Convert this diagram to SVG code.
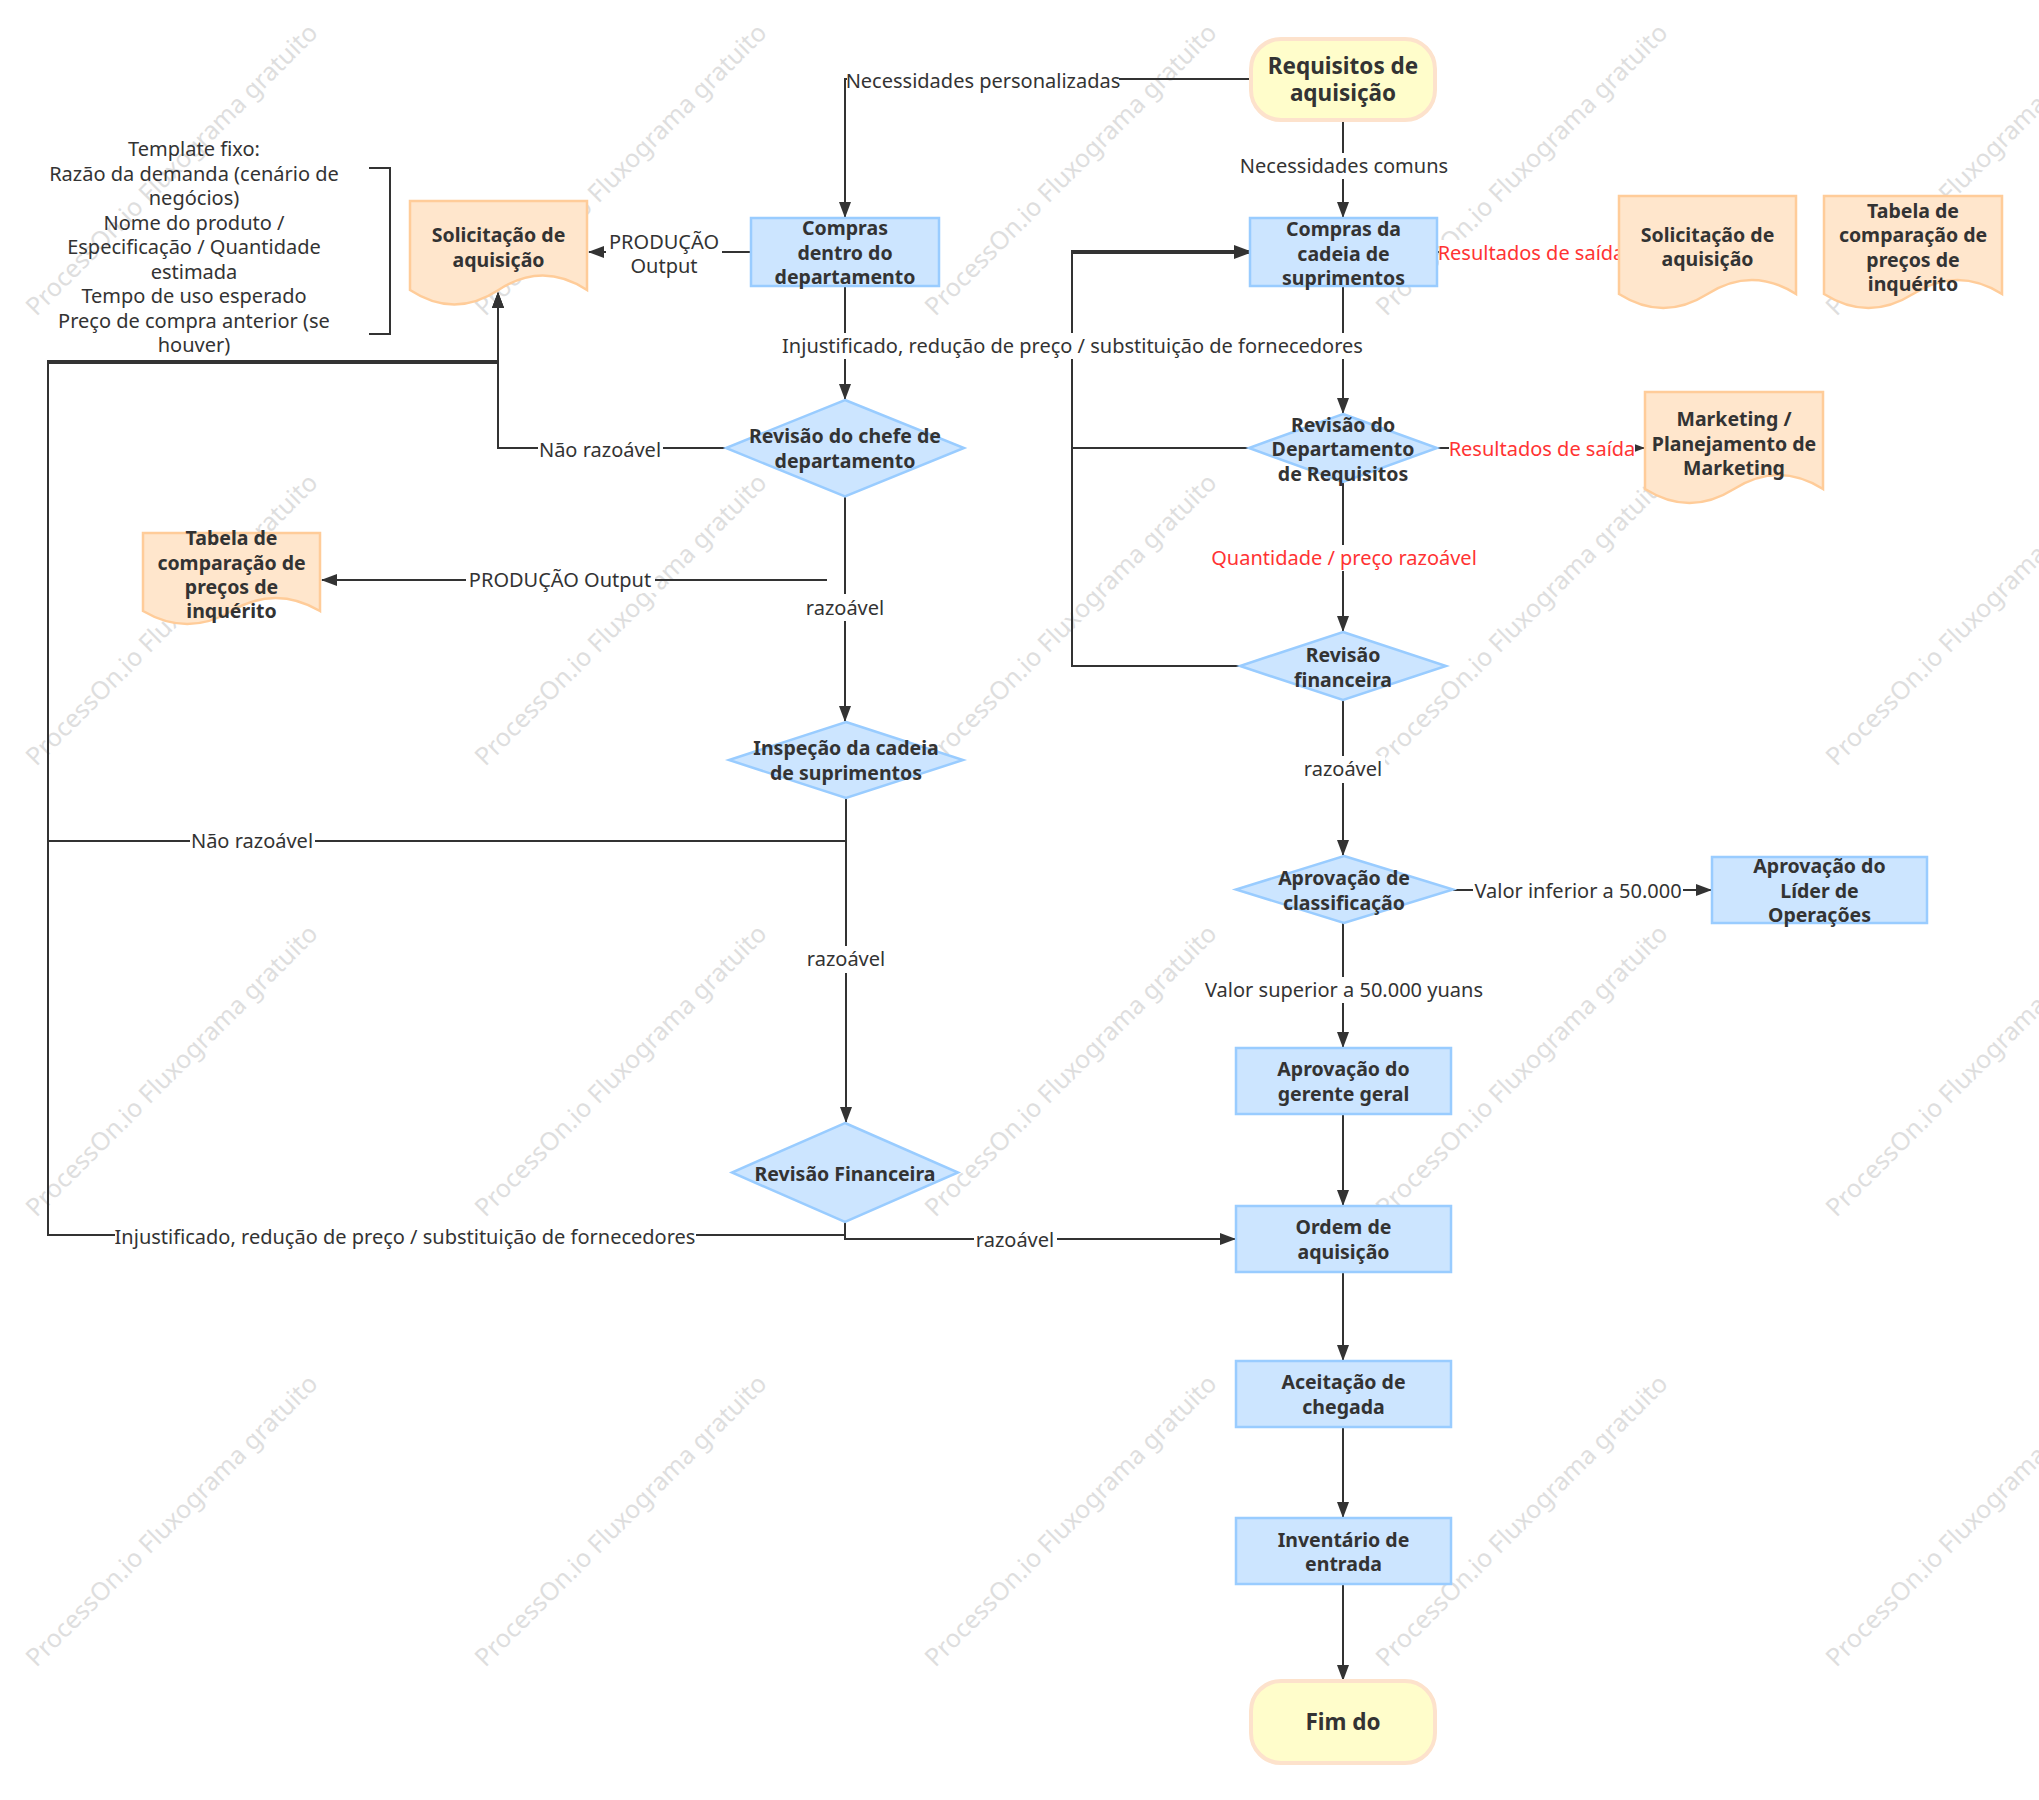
<svg xmlns="http://www.w3.org/2000/svg" width="2039" height="1800" viewBox="0 0 2039 1800">
<style>
text{font-family:"Noto Sans","Open Sans","Liberation Sans",sans-serif;}
.n{font-size:19.5px;font-weight:bold;fill:#333;text-anchor:middle;}
.t{font-size:22.5px;font-weight:bold;fill:#333;text-anchor:middle;}
.l{font-size:20px;fill:#333;text-anchor:middle;}
.r{font-size:20px;fill:#ff3333;text-anchor:middle;}
.bg{fill:#fff;}
.box{fill:#cce5ff;stroke:#99ccff;stroke-width:2.5;}
.doc{fill:#ffe6cc;stroke:#ffcc99;stroke-width:2.5;}
.term{fill:#fffdcb;stroke:#fde2cc;stroke-width:4;}
.c{fill:none;stroke:#333;stroke-width:2;}
.a{marker-end:url(#arr);}
.wm{font-size:25px;fill:#dedede;text-anchor:middle;}
</style>
<defs>
<marker id="arr" markerWidth="16" markerHeight="12" refX="15" refY="6" orient="auto" markerUnits="userSpaceOnUse"><path d="M0,0 L16,6 L0,12 z" fill="#333"/></marker>
</defs>
<rect width="2039" height="1800" fill="#fff"/>

<g id="watermarks">
<text class="wm" transform="translate(172,170) rotate(-45)" y="8">ProcessOn.io Fluxograma gratuito</text>
<text class="wm" transform="translate(621,170) rotate(-45)" y="8">ProcessOn.io Fluxograma gratuito</text>
<text class="wm" transform="translate(1071,170) rotate(-45)" y="8">ProcessOn.io Fluxograma gratuito</text>
<text class="wm" transform="translate(1522,170) rotate(-45)" y="8">ProcessOn.io Fluxograma gratuito</text>
<text class="wm" transform="translate(1972,170) rotate(-45)" y="8">ProcessOn.io Fluxograma gratuito</text>
<text class="wm" transform="translate(172,620) rotate(-45)" y="8">ProcessOn.io Fluxograma gratuito</text>
<text class="wm" transform="translate(621,620) rotate(-45)" y="8">ProcessOn.io Fluxograma gratuito</text>
<text class="wm" transform="translate(1071,620) rotate(-45)" y="8">ProcessOn.io Fluxograma gratuito</text>
<text class="wm" transform="translate(1522,620) rotate(-45)" y="8">ProcessOn.io Fluxograma gratuito</text>
<text class="wm" transform="translate(1972,620) rotate(-45)" y="8">ProcessOn.io Fluxograma gratuito</text>
<text class="wm" transform="translate(172,1071) rotate(-45)" y="8">ProcessOn.io Fluxograma gratuito</text>
<text class="wm" transform="translate(621,1071) rotate(-45)" y="8">ProcessOn.io Fluxograma gratuito</text>
<text class="wm" transform="translate(1071,1071) rotate(-45)" y="8">ProcessOn.io Fluxograma gratuito</text>
<text class="wm" transform="translate(1522,1071) rotate(-45)" y="8">ProcessOn.io Fluxograma gratuito</text>
<text class="wm" transform="translate(1972,1071) rotate(-45)" y="8">ProcessOn.io Fluxograma gratuito</text>
<text class="wm" transform="translate(172,1521) rotate(-45)" y="8">ProcessOn.io Fluxograma gratuito</text>
<text class="wm" transform="translate(621,1521) rotate(-45)" y="8">ProcessOn.io Fluxograma gratuito</text>
<text class="wm" transform="translate(1071,1521) rotate(-45)" y="8">ProcessOn.io Fluxograma gratuito</text>
<text class="wm" transform="translate(1522,1521) rotate(-45)" y="8">ProcessOn.io Fluxograma gratuito</text>
<text class="wm" transform="translate(1972,1521) rotate(-45)" y="8">ProcessOn.io Fluxograma gratuito</text>
</g>

<g id="connectors">
<path class="c a" d="M1250,79 H845 V217"/>
<path class="c a" d="M1343,121 V217"/>
<path class="c a" d="M750,252 H589"/>
<path class="c a" d="M845,287 V399"/>
<path class="c a" d="M726,448 H498 V293"/>
<path class="c a" d="M827,580 H322"/>
<path class="c a" d="M845,497 V721"/>
<path class="c a" d="M846,798 V841 H48 V361 H498 V293"/>
<path class="c a" d="M846,798 V1122"/>
<path class="c a" d="M845,1222 V1235 H48 V363 H498 V293"/>
<path class="c a" d="M845,1222 V1239 H1235"/>
<path class="c a" d="M1343,287 V413"/>
<path class="c" d="M1438,252 H1618"/>
<path class="c a" d="M1437,448 H1644"/>
<path class="c a" d="M1249,448 H1072 V251 H1249"/>
<path class="c a" d="M1240,666 H1072 V253 H1249"/>
<path class="c a" d="M1343,482 V631"/>
<path class="c a" d="M1343,700 V855"/>
<path class="c a" d="M1453,890 H1711"/>
<path class="c a" d="M1343,923 V1047"/>
<path class="c a" d="M1343,1115 V1205"/>
<path class="c a" d="M1343,1273 V1360"/>
<path class="c a" d="M1343,1428 V1517"/>
<path class="c a" d="M1343,1585 V1680"/>

<rect class="bg" x="847" y="68" width="272" height="26"/>
<text class="l" x="983" y="88">Necessidades personalizadas</text>
<rect class="bg" x="1240" y="153" width="209" height="26"/>
<text class="l" x="1344" y="173">Necessidades comuns</text>
<rect class="bg" x="606" y="229" width="116" height="50"/>
<text class="l" x="664" y="249">PRODUÇÃO</text>
<text class="l" x="664" y="273">Output</text>
<rect class="bg" x="782" y="333" width="581" height="26"/>
<text class="l" x="1072.5" y="353">Injustificado, redução de preço / substituição de fornecedores</text>
<rect class="bg" x="538" y="437" width="125" height="26"/>
<text class="l" x="600" y="457">Não razoável</text>
<rect class="bg" x="466" y="567" width="189" height="26"/>
<text class="l" x="560" y="587">PRODUÇÃO Output</text>
<rect class="bg" x="804" y="594" width="83" height="27"/>
<text class="l" x="845" y="615">razoável</text>
<rect class="bg" x="190" y="828" width="125" height="26"/>
<text class="l" x="252" y="848">Não razoável</text>
<rect class="bg" x="805" y="946" width="83" height="27"/>
<text class="l" x="846" y="966">razoável</text>
<rect class="bg" x="115" y="1224" width="581" height="26"/>
<text class="l" x="405" y="1244">Injustificado, redução de preço / substituição de fornecedores</text>
<rect class="bg" x="974" y="1227" width="83" height="26"/>
<text class="l" x="1015" y="1247">razoável</text>
<rect class="bg" x="1439" y="240" width="186" height="26"/>
<text class="r" x="1531" y="260">Resultados de saída</text>
<rect class="bg" x="1449" y="436" width="186" height="26"/>
<text class="r" x="1542" y="456">Resultados de saída</text>
<rect class="bg" x="1209" y="545" width="270" height="26"/>
<text class="r" x="1344" y="565">Quantidade / preço razoável</text>
<rect class="bg" x="1302" y="756" width="83" height="27"/>
<text class="l" x="1343" y="776">razoável</text>
<rect class="bg" x="1473" y="878" width="210" height="26"/>
<text class="l" x="1578" y="898">Valor inferior a 50.000</text>
<rect class="bg" x="1205" y="977" width="279" height="26"/>
<text class="l" x="1344" y="997">Valor superior a 50.000 yuans</text>
</g>

<g id="annotation">
<path class="c" d="M369,168 H390 V334 H369"/>
<text class="l" x="194" y="156">Template fixo:</text>
<text class="l" x="194" y="180.5">Razão da demanda (cenário de</text>
<text class="l" x="194" y="205">negócios)</text>
<text class="l" x="194" y="229.5">Nome do produto /</text>
<text class="l" x="194" y="254">Especificação / Quantidade</text>
<text class="l" x="194" y="278.5">estimada</text>
<text class="l" x="194" y="303">Tempo de uso esperado</text>
<text class="l" x="194" y="327.5">Preço de compra anterior (se</text>
<text class="l" x="194" y="352">houver)</text>
</g>

<g id="n-requisitos">
<rect class="term" x="1251" y="39" width="184" height="81" rx="30" ry="30"/>
<text class="t" x="1343" y="73.5">Requisitos de</text>
<text class="t" x="1343" y="100.5">aquisição</text>
</g>
<g id="n-compras-dentro">
<rect class="box" x="751" y="218" width="188" height="68"/>
<text class="n" x="845" y="235">Compras</text>
<text class="n" x="845" y="259.5">dentro do</text>
<text class="n" x="845" y="284">departamento</text>
</g>
<g id="n-solicitacao-left">
<path class="doc" d="M410,201 H587 V290 Q542.75,261 498.5,290 T410,290 Z"/>
<text class="n" x="498.5" y="242">Solicitação de</text>
<text class="n" x="498.5" y="267">aquisição</text>
</g>
<g id="n-tabela-left">
<path class="doc" d="M143,533 H320 V611 Q275.75,585 231.5,611 T143,611 Z"/>
<text class="n" x="231.5" y="545">Tabela de</text>
<text class="n" x="231.5" y="569.5">comparação de</text>
<text class="n" x="231.5" y="594">preços de</text>
<text class="n" x="231.5" y="618">inquérito</text>
</g>
<g id="n-revisao-chefe">
<polygon class="box" points="845,400 964,448 845,496.5 726,448"/>
<text class="n" x="845" y="443">Revisão do chefe de</text>
<text class="n" x="845" y="467.5">departamento</text>
</g>
<g id="n-inspecao">
<polygon class="box" points="846,722 963,760 846,798 729,760"/>
<text class="n" x="846" y="755">Inspeção da cadeia</text>
<text class="n" x="846" y="779.5">de suprimentos</text>
</g>
<g id="n-revisao-financeira-left">
<polygon class="box" points="845,1123 958,1172.5 845,1222 732,1172.5"/>
<text class="n" x="845" y="1181">Revisão Financeira</text>
</g>
<g id="n-compras-cadeia">
<rect class="box" x="1250" y="218" width="187" height="68"/>
<text class="n" x="1343.5" y="236">Compras da</text>
<text class="n" x="1343.5" y="260.5">cadeia de</text>
<text class="n" x="1343.5" y="285">suprimentos</text>
</g>
<g id="n-solicitacao-right">
<path class="doc" d="M1619,196 H1796 V294 Q1751.75,266 1707.5,294 T1619,294 Z"/>
<text class="n" x="1707.5" y="241.5">Solicitação de</text>
<text class="n" x="1707.5" y="266">aquisição</text>
</g>
<g id="n-tabela-right">
<path class="doc" d="M1824,196 H2002 V294 Q1957.5,266 1913,294 T1824,294 Z"/>
<text class="n" x="1913" y="217.5">Tabela de</text>
<text class="n" x="1913" y="242">comparação de</text>
<text class="n" x="1913" y="266.5">preços de</text>
<text class="n" x="1913" y="291">inquérito</text>
</g>
<g id="n-revisao-depto">
<polygon class="box" points="1343,414 1437,448 1343,482 1249,448"/>
<text class="n" x="1343" y="431.5">Revisão do</text>
<text class="n" x="1343" y="456">Departamento</text>
<text class="n" x="1343" y="480.5">de Requisitos</text>
</g>
<g id="n-marketing">
<path class="doc" d="M1645,392 H1823 V489 Q1778.5,461 1734,489 T1645,489 Z"/>
<text class="n" x="1734" y="426">Marketing /</text>
<text class="n" x="1734" y="450.5">Planejamento de</text>
<text class="n" x="1734" y="475">Marketing</text>
</g>
<g id="n-revisao-financeira-right">
<polygon class="box" points="1343,632 1446,666 1343,700 1240,666"/>
<text class="n" x="1343" y="662">Revisão</text>
<text class="n" x="1343" y="686.5">financeira</text>
</g>
<g id="n-aprovacao-classificacao">
<polygon class="box" points="1344,856 1453,889.5 1344,923 1236,889.5"/>
<text class="n" x="1344" y="885">Aprovação de</text>
<text class="n" x="1344" y="909.5">classificação</text>
</g>
<g id="n-lider">
<rect class="box" x="1712" y="857" width="215" height="66"/>
<text class="n" x="1819.5" y="873">Aprovação do</text>
<text class="n" x="1819.5" y="897.5">Líder de</text>
<text class="n" x="1819.5" y="922">Operações</text>
</g>
<g id="n-gerente">
<rect class="box" x="1236" y="1048" width="215" height="66"/>
<text class="n" x="1343.5" y="1076">Aprovação do</text>
<text class="n" x="1343.5" y="1100.5">gerente geral</text>
</g>
<g id="n-ordem">
<rect class="box" x="1236" y="1206" width="215" height="66"/>
<text class="n" x="1343.5" y="1234">Ordem de</text>
<text class="n" x="1343.5" y="1258.5">aquisição</text>
</g>
<g id="n-aceitacao">
<rect class="box" x="1236" y="1361" width="215" height="66"/>
<text class="n" x="1343.5" y="1389">Aceitação de</text>
<text class="n" x="1343.5" y="1413.5">chegada</text>
</g>
<g id="n-inventario">
<rect class="box" x="1236" y="1518" width="215" height="66"/>
<text class="n" x="1343.5" y="1546.5">Inventário de</text>
<text class="n" x="1343.5" y="1571">entrada</text>
</g>
<g id="n-fim">
<rect class="term" x="1251" y="1681" width="184" height="82" rx="30" ry="30"/>
<text class="t" x="1343" y="1730">Fim do</text>
</g>
</svg>
